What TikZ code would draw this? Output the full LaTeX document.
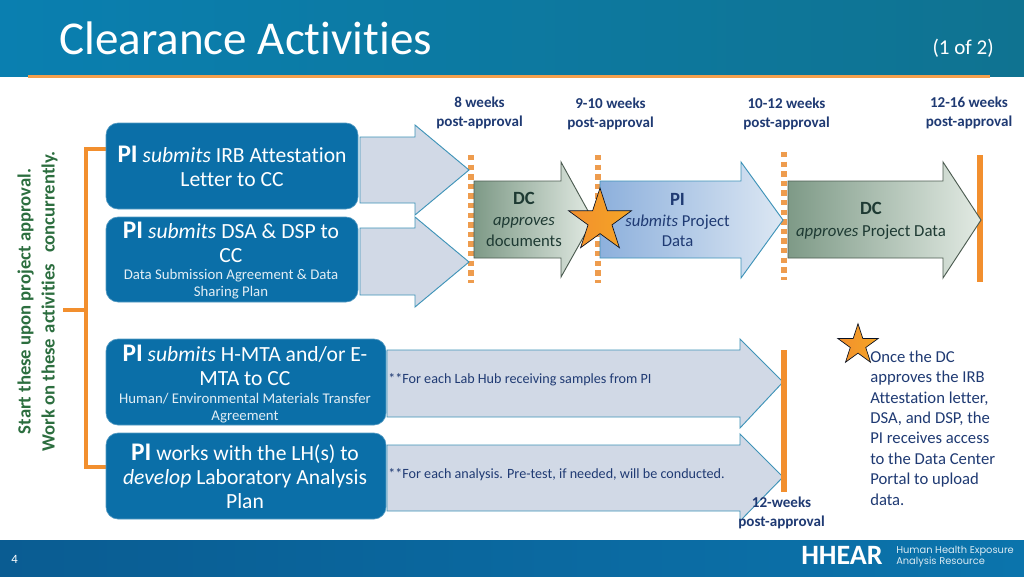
\documentclass[tikz,border=0pt]{standalone}
\usepackage{fontspec}
\setmainfont[Ligatures=NoCommon]{Carlito}
\newfontfamily\logofont{Poppins}
\usetikzlibrary{shapes.geometric}
\definecolor{boxblue}{HTML}{0B6FA8}
\definecolor{navy}{HTML}{1F3A73}
\definecolor{orng}{HTML}{F28F2E}
\definecolor{dotorng}{HTML}{EE9C4E}
\definecolor{edgeblue}{HTML}{3E93B8}
\definecolor{palearrow}{HTML}{D1D9E6}
\definecolor{vgreen}{HTML}{2C6E3F}
\definecolor{headl}{HTML}{0A7FB0}
\definecolor{headm}{HTML}{0679AB}
\definecolor{headr}{HTML}{0F7391}
\definecolor{footl}{HTML}{0A5C92}
\definecolor{footr}{HTML}{0B74AC}
\definecolor{dcl}{HTML}{7E9A87}
\definecolor{dcr}{HTML}{E2EAE3}
\definecolor{pil}{HTML}{8DB0DC}
\definecolor{pir}{HTML}{DCE7F3}
\definecolor{dctext}{HTML}{1E3A33}
\newcommand{\fs}[1]{\fontsize{#1}{#1}\selectfont}
\newcommand{\lh}[2]{\fontsize{#1}{#2}\selectfont}
\tikzset{
  x=0.75pt,y=-0.75pt,
  bluebox/.style={fill=boxblue,draw=boxblue!70!white,line width=0.5pt,rounded corners=9pt},
  boxtext/.style={text=white,align=center,inner sep=0pt},
  pale/.style={fill=palearrow,draw=edgeblue,line width=0.7pt,line join=miter},
  dcarrow/.style={left color=dcl,right color=dcr,draw=dcl!60!black,line width=0.7pt},
  piarrow/.style={left color=pil,right color=pir,draw=edgeblue,line width=0.7pt},
  weeks/.style={text=navy,align=center,inner sep=0pt,font=\lh{11.3}{14.3}\bfseries},
  dots/.style={draw=dotorng,line width=4pt,dash pattern=on 4pt off 3.2pt},
  bar/.style={draw=orng,line width=3.8pt},
  orstar/.style={star,star points=5,star point ratio=2.618,inner sep=0pt,draw=black!70!navy,line width=0.5pt,left color=orng,right color=orng!80!yellow},
}
\begin{document}
\begin{tikzpicture}
\useasboundingbox (0,0) rectangle (1024,576);
\fill[white] (0,0) rectangle (1024,576);
% header and footer
\shade[left color=headl,middle color=headm,right color=headr] (0,0) rectangle (1024,76);
\shade[left color=footl,right color=footr] (0,540) rectangle (1024,576);
\draw[draw=orng!85!white,line width=2.4pt] (28,76.5) -- (990,76.5);
\node[anchor=base west,inner sep=0pt,text=white,font=\fs{35.3}] (title) at (59,54) {Clearance Activities};
\node[anchor=base east,inner sep=0pt,text=white,font=\fs{15.8}] (part) at (994,54) {(1 of 2)};
\node[anchor=base west,inner sep=0pt,text=white,font=\fs{9.5}] (pagenum) at (11,563) {4};
\node[anchor=base west,inner sep=0pt,text=white,font=\fs{21}\bfseries] (logo) at (801,564) {HHEAR};
\node[anchor=west,inner sep=0pt,text=white!85!footr,align=left,font=\logofont\lh{7.4}{8.3}] (logotext) at (896,556.5) {Human Health Exposure\\Analysis Resource};
% dotted milestones
\coordinate (d1a) at (471,155); \coordinate (d1b) at (471,283);
\coordinate (d2a) at (598,155); \coordinate (d2b) at (598,283);
\coordinate (d3a) at (784,152); \coordinate (d3b) at (784,280);
\draw[dots] (d1a) -- (d1b);
\draw[dots] (d2a) -- (d2b);
\draw[dots] (d3a) -- (d3b);
\coordinate (b1a) at (980,155); \coordinate (b1b) at (980,282);
\coordinate (b2a) at (784,350); \coordinate (b2b) at (784,492);
% pale arrows
\path[pale] (360,137) -- (415,137) -- (415,125) -- (469,170) -- (415,215) -- (415,203) -- (360,203) -- cycle;
\path[pale] (360,228) -- (415,228) -- (415,217) -- (469,262) -- (415,307) -- (415,295) -- (360,295) -- cycle;
\path[pale] (387,350) -- (740,350) -- (740,339) -- (783,382) -- (740,428) -- (740,417) -- (387,417) -- cycle;
\path[pale] (387,445) -- (740,445) -- (740,434) -- (783,477) -- (740,521) -- (740,511) -- (387,511) -- cycle;
\draw[bar] (b1a) -- (b1b);
\draw[bar] (b2a) -- (b2b);
% process arrows
\path[piarrow] (600,181) -- (741,181) -- (741,162) -- (783,220) -- (741,278) -- (741,258) -- (600,258) -- cycle;
\path[dcarrow] (474,181) -- (561,181) -- (561,162) -- (593,220) -- (561,277) -- (561,258) -- (474,258) -- cycle;
\path[dcarrow] (788,181) -- (943,181) -- (943,162) -- (981,220) -- (943,278) -- (943,258) -- (788,258) -- cycle;
% bracket
\coordinate (brk1) at (106,149); \coordinate (brk4) at (106,467);
\coordinate (brkst) at (63,310); \coordinate (brkmid) at (86,310);
\draw[draw=orng,line width=3pt] (brk1) -| (86,467) -- (brk4);
\draw[draw=orng,line width=3pt] (brkst) -- (brkmid);
% blue boxes
\path[bluebox] (106,123) rectangle (358,209);
\path[bluebox] (106,217) rectangle (358,302);
\path[bluebox] (106,339) rectangle (386,425);
\path[bluebox] (106,433) rectangle (386,519);
\node[boxtext,font=\lh{16.2}{18}] (box1) at (232,166) {{\fs{19}\bfseries PI} \textit{submits} IRB Attestation\\Letter to CC};
\node[boxtext,font=\lh{16.2}{18}] (box2) at (231,242) {{\fs{19}\bfseries PI} \textit{submits} DSA \& DSP to\\CC};
\node[boxtext,text=white!88!boxblue,font=\lh{11.1}{12.6}] (box2s) at (231,284.5) {Data Submission Agreement \& Data\\Sharing Plan};
\node[boxtext,font=\lh{16.2}{18}] (box3) at (245,365) {{\fs{19}\bfseries PI} \textit{submits} H-MTA and/or E-\\MTA to CC};
\node[boxtext,text=white!88!boxblue,font=\lh{11.1}{12.6}] (box3s) at (245,408) {Human/ Environmental Materials Transfer\\Agreement};
\node[boxtext,font=\lh{16.2}{18}] (box4) at (245,476) {{\fs{19}\bfseries PI} works with the LH(s) to\\\textit{develop} Laboratory Analysis\\Plan};
% arrow texts
\node[anchor=west,inner sep=0pt,text=navy,font=\fs{10.6}] (n3) at (388,379.5) {**For each Lab Hub receiving samples from PI};
\node[anchor=west,inner sep=0pt,text=navy,font=\fs{10.6}] (n4) at (388,474.5) {**For each analysis. Pre-test, if needed, will be conducted.};
\node[inner sep=0pt,align=center,text=dctext,font=\lh{12.5}{15.5}] (dc1) at (524,219.5) {{\fs{14}\bfseries DC}\\\textit{approves}\\documents};
\node[inner sep=0pt,align=center,text=navy,font=\lh{12.5}{15.5}] (pi1) at (677.5,220) {{\fs{14}\bfseries PI}\\\textit{submits} Project\\Data};
\node[inner sep=0pt,align=center,text=dctext,font=\lh{12.6}{16.5}] (dc2) at (871,220.5) {{\fs{14}\bfseries DC}\\\textit{approves} Project Data};
% stars
\node[orstar,minimum size=49.5pt] (star1) at (600,221) {};
\node[orstar,minimum size=32pt] (star2) at (858,345) {};
% week labels
\node[weeks] (w1) at (479.5,112.5) {8 weeks\\post-approval};
\node[weeks] (w2) at (610.5,114) {9-10 weeks\\post-approval};
\node[weeks] (w3) at (786.5,114) {10-12 weeks\\post-approval};
\node[weeks] (w4) at (969,112.5) {12-16 weeks\\post-approval};
\node[weeks] (w5) at (781.5,513) {12-weeks\\post-approval};
% side texts
\node[rotate=90,inner sep=0pt,text=vgreen,align=center,font=\lh{14}{18}\bfseries] (side) at (37.5,301.5) {Start these upon project approval.\\Work on these\hspace{1pt} activities\hspace{5pt} concurrently.};
\node[anchor=north west,inner sep=0pt,text=navy,align=left,font=\lh{12.5}{15.3}] (once) at (870,350.5) {Once the DC\\approves the IRB\\Attestation letter,\\DSA, and DSP, the\\PI receives access\\to the Data Center\\Portal to upload\\data.};
\end{tikzpicture}
\end{document}
